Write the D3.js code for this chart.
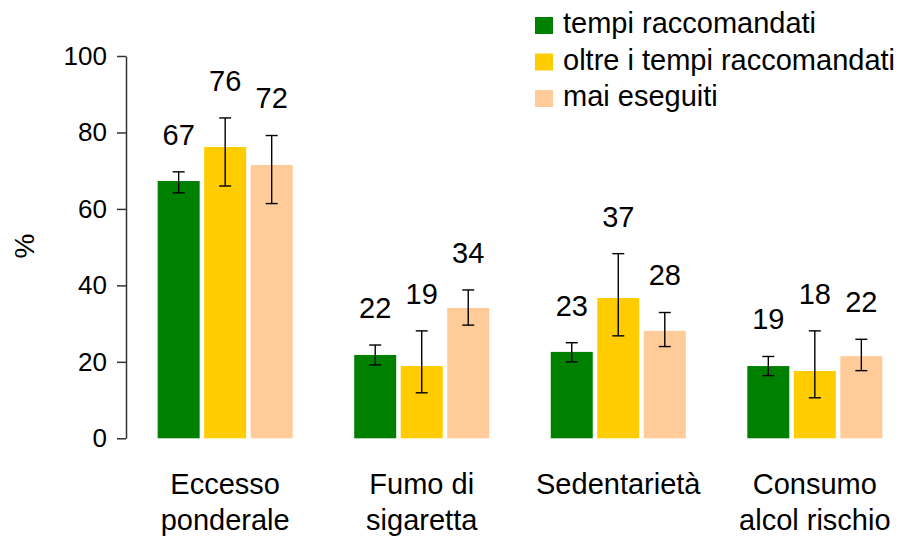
<!DOCTYPE html>
<html>
<head>
<meta charset="utf-8">
<script src="https://cdn.jsdelivr.net/npm/d3@7"></script>
<style>
  body { margin: 0; background: #fff; }
  text { font-family: "Liberation Sans", Arial, sans-serif; fill: #000; }
</style>
</head>
<body>
<svg id="chart"></svg>
<script>
// categories (lines of each label)
var categories = ['Eccesso ponderale', 'Fumo di sigaretta', 'Sedentarietà', 'Consumo alcol rischio'];
var categoryLines = [['Eccesso', 'ponderale'], ['Fumo di', 'sigaretta'], ['Sedentarietà'], ['Consumo', 'alcol rischio']];
var seriesNames = ['tempi raccomandati', 'oltre i tempi raccomandati', 'mai eseguiti'];
var seriesColors = ['#008000', '#ffcc00', '#ffcc99'];

// values (%) and confidence intervals
var tempi = [67.3, 21.8, 22.6, 18.9];
var tempiLow = [64.2, 19.2, 20.0, 16.4];
var tempiHigh = [69.7, 24.4, 25.0, 21.4];

var oltre = [76.2, 18.9, 36.7, 17.6];
var oltreLow = [66.0, 11.9, 26.8, 10.6];
var oltreHigh = [83.8, 28.1, 48.3, 28.1];

var mai = [71.5, 34.1, 28.1, 21.5];
var maiLow = [61.4, 29.6, 24.0, 17.7];
var maiHigh = [79.2, 38.8, 32.9, 25.9];

var yTicks = [0, 20, 40, 60, 80, 100];

var width = 908;
var height = 541;

var svg = d3.select('#chart')
  .attr('width', width)
  .attr('height', height);

// build the rows
var series = [
  {name: seriesNames[0], color: seriesColors[0], v: tempi, lo: tempiLow, hi: tempiHigh},
  {name: seriesNames[1], color: seriesColors[1], v: oltre, lo: oltreLow, hi: oltreHigh},
  {name: seriesNames[2], color: seriesColors[2], v: mai, lo: maiLow, hi: maiHigh}
];
var rows = [];
categories.forEach(function (c, i) {
  series.forEach(function (s) {
    rows.push({cat: c, name: s.name, color: s.color, value: s.v[i], lo: s.lo[i], hi: s.hi[i]});
  });
});

var y = d3.scaleLinear().domain([0, 100]).range([438.3, 56]);

var x0 = d3.scaleBand()
  .domain(categories)
  .range([127, 913])
  .paddingInner(0.313)
  .paddingOuter(0.156);

var x1 = d3.scaleBand()
  .domain(seriesNames)
  .range([0, x0.bandwidth()])
  .paddingInner(0.097);

// y axis
var yAxis = svg.append('g')
  .attr('transform', 'translate(126,0)')
  .call(d3.axisLeft(y).tickValues(yTicks).tickSize(9).tickSizeOuter(0).tickPadding(10));
yAxis.select('.domain').attr('stroke', '#333').attr('stroke-width', 1.5);
yAxis.selectAll('.tick line').attr('stroke', '#333').attr('stroke-width', 1.5);
yAxis.selectAll('.tick text')
  .style('font-family', '"Liberation Sans", Arial, sans-serif')
  .style('font-size', '26px')
  .attr('fill', '#000');

svg.append('text')
  .attr('transform', 'translate(34,246) rotate(-90)')
  .attr('text-anchor', 'middle')
  .style('font-size', '28px')
  .text('%');

// bars
svg.selectAll('rect.bar')
  .data(rows)
  .enter()
    .append('rect')
    .attr('class', 'bar')
    .attr('x', function (d) { return x0(d.cat) + x1(d.name); })
    .attr('y', function (d) { return y(d.value); })
    .attr('width', x1.bandwidth())
    .attr('height', function (d) { return y(0) - y(d.value); })
    .attr('fill', function (d) { return d.color; });

// error bars
var err = svg.selectAll('g.err')
  .data(rows)
  .enter()
    .append('g')
    .attr('class', 'err')
    .attr('stroke', '#000')
    .attr('stroke-width', 1.4);

function cx(d) { return x0(d.cat) + x1(d.name) + x1.bandwidth() / 2; }

err.append('line')
  .attr('x1', cx).attr('x2', cx)
  .attr('y1', function (d) { return y(d.lo); })
  .attr('y2', function (d) { return y(d.hi); });
err.append('line')
  .attr('x1', function (d) { return cx(d) - 6; }).attr('x2', function (d) { return cx(d) + 6; })
  .attr('y1', function (d) { return y(d.lo); })
  .attr('y2', function (d) { return y(d.lo); });
err.append('line')
  .attr('x1', function (d) { return cx(d) - 6; }).attr('x2', function (d) { return cx(d) + 6; })
  .attr('y1', function (d) { return y(d.hi); })
  .attr('y2', function (d) { return y(d.hi); });

// value labels above the error bars
svg.selectAll('text.val')
  .data(rows)
  .enter()
    .append('text')
    .attr('class', 'val')
    .attr('x', cx)
    .attr('y', function (d) { return y(d.hi + 9.8); })
    .attr('dy', '0.36em')
    .attr('text-anchor', 'middle')
    .style('font-size', '29px')
    .text(function (d) { return Math.round(d.value); });

// category labels
var catLabels = svg.selectAll('text.cat')
  .data(categories)
  .enter()
    .append('text')
    .attr('class', 'cat')
    .attr('text-anchor', 'middle')
    .style('font-size', '29px');

catLabels.each(function (c, i) {
  var t = d3.select(this);
  categoryLines[i].forEach(function (line, j) {
    t.append('tspan')
      .attr('x', x0(c) + x0.bandwidth() / 2)
      .attr('y', 494 + j * 36)
      .text(line);
  });
});

// legend
var legend = svg.selectAll('g.legend')
  .data(series)
  .enter()
    .append('g')
    .attr('class', 'legend')
    .attr('transform', function (d, i) { return 'translate(535,' + (33 + i * 36.5) + ')'; });

legend.append('rect')
  .attr('x', 0)
  .attr('y', -16)
  .attr('width', 18)
  .attr('height', 17)
  .attr('fill', function (d) { return d.color; });

legend.append('text')
  .attr('x', 28)
  .attr('y', 0)
  .style('font-size', '29px')
  .text(function (d) { return d.name; });
</script>
</body>
</html>
